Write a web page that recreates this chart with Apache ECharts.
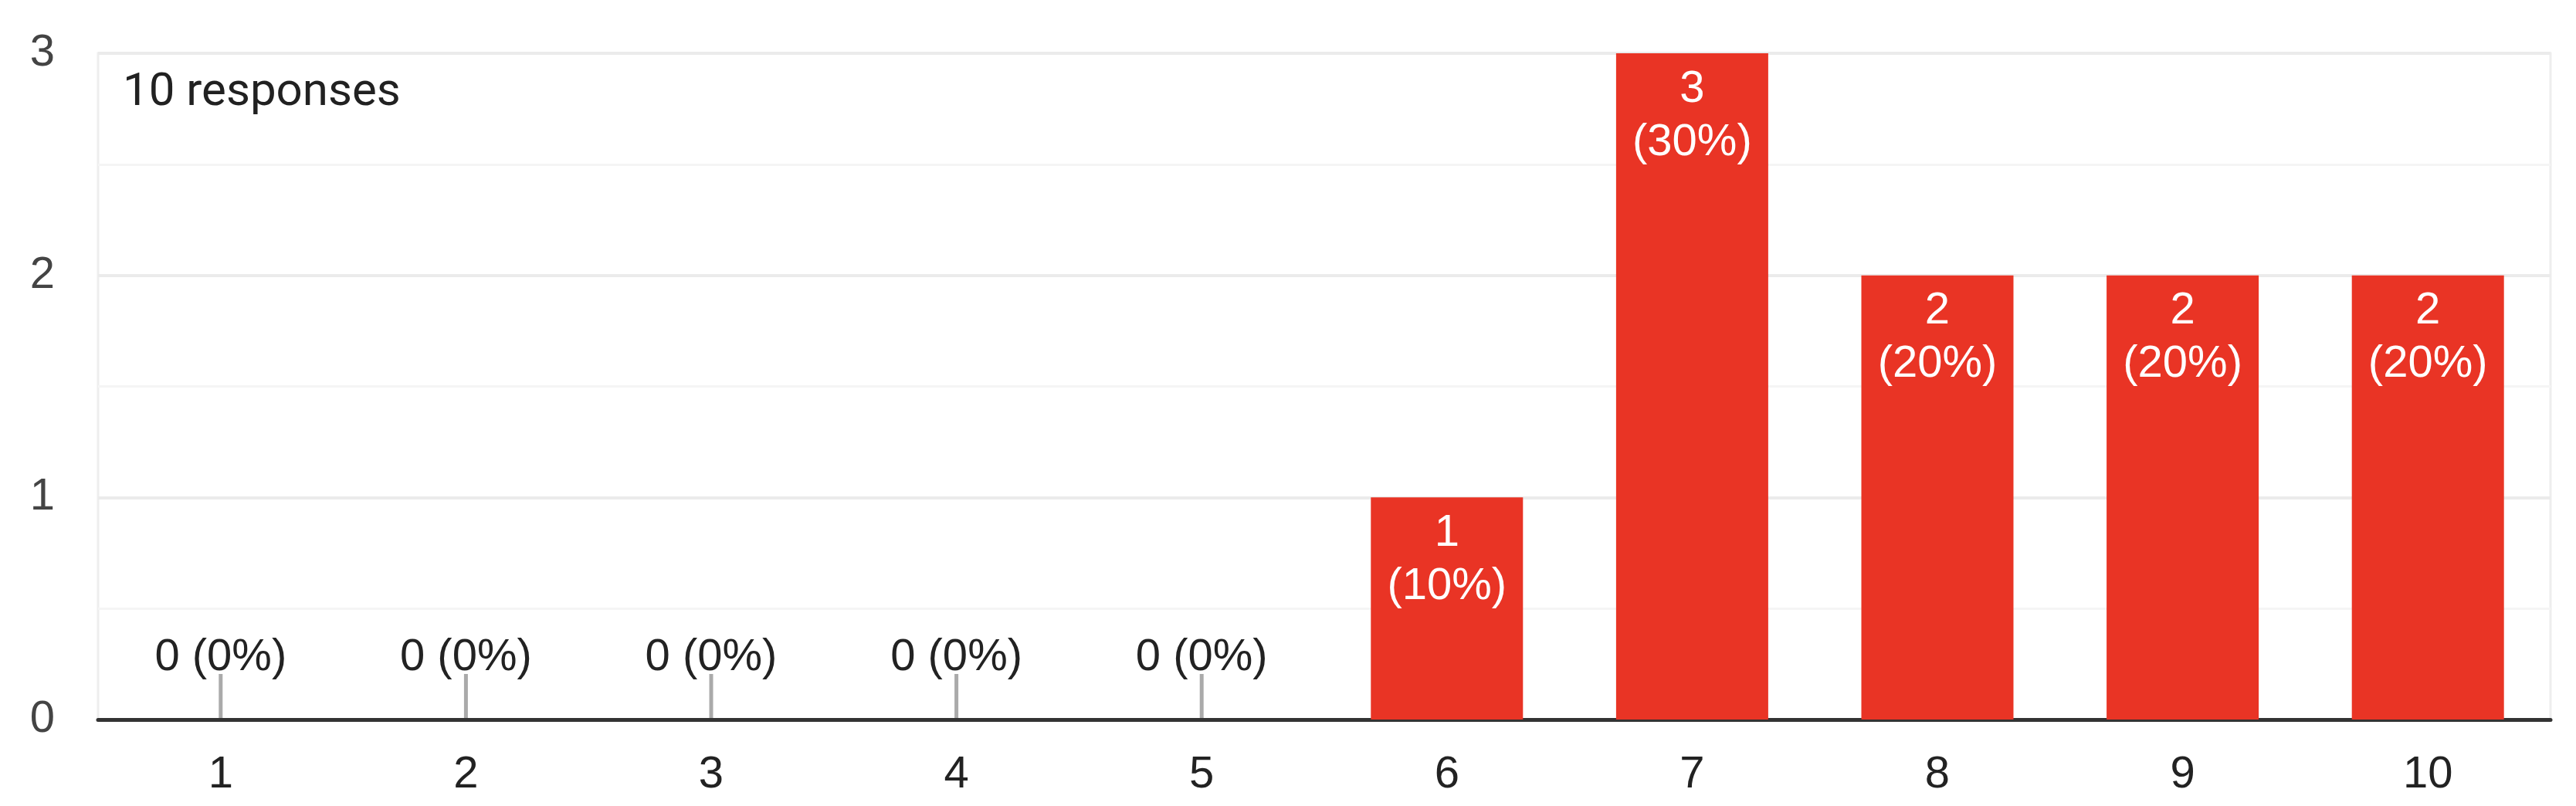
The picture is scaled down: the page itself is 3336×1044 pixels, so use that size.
<!DOCTYPE html>
<html>
<head>
<meta charset="utf-8">
<script src="https://cdn.jsdelivr.net/npm/echarts@6/dist/echarts.min.js"></script>
<style>
  html, body { margin: 0; padding: 0; background: #fff; }
  #chart { width: 3336px; height: 1044px; }
</style>
</head>
<body>
<div id="chart"></div>
<script>
  const categories = ["1", "2", "3", "4", "5", "6", "7", "8", "9", "10"]
  const counts = [0, 0, 0, 0, 0, 1, 3, 2, 2, 2]
  const percents = ["0%", "0%", "0%", "0%", "0%", "10%", "30%", "20%", "20%", "20%"]
  const yTicks = [0, 1, 2, 3]
  const totalLabel = "10 responses"

  const labelFont = "'Liberation Sans', Arial, sans-serif"

  // bars: label inside for non-zero, above with a stem for zero
  const barData = counts.map((v, i) => {
    if (v > 0) {
      return {
        value: v,
        label: {
          show: true,
          position: "insideTop",
          distance: 12,
          color: "#fff",
          formatter: v + "\n(" + percents[i] + ")",
        },
      }
    }
    return {
      value: v,
      label: {
        show: true,
        position: "top",
        distance: 46,
        color: "#222",
        formatter: v + " (" + percents[i] + ")",
      },
    }
  })

  const stemData = counts
    .map((v, i) => [i, v])
    .filter((d) => d[1] === 0)

  const chart = echarts.init(document.getElementById("chart"))
  chart.setOption({
    backgroundColor: "#fff",
    animation: false,
    title: {
      text: totalLabel,
      left: 159,
      top: 91,
      padding: 0,
      textStyle: {
        fontFamily: "Roboto, sans-serif",
        fontSize: 60,
        fontWeight: "normal",
        color: "#212121",
      },
    },
    grid: {
      left: 127,
      right: 33,
      top: 69,
      bottom: 112,
      show: true,
      borderColor: "#eeeeee",
      borderWidth: 3,
    },
    xAxis: {
      type: "category",
      data: categories,
      axisLine: { lineStyle: { color: "#333", width: 5 } },
      axisTick: { show: false },
      axisLabel: {
        margin: 37,
        fontFamily: labelFont,
        fontSize: 58,
        lineHeight: 69,
        color: "#222",
      },
      splitLine: { show: false },
    },
    yAxis: {
      type: "value",
      min: yTicks[0],
      max: yTicks[yTicks.length - 1],
      interval: 1,
      axisLine: { show: false },
      axisTick: { show: false },
      axisLabel: {
        margin: 56,
        fontFamily: labelFont,
        fontSize: 58,
        color: "#444",
      },
      splitLine: { lineStyle: { color: "#ebebeb", width: 4 } },
      minorTick: { show: false, splitNumber: 2 },
      minorSplitLine: { show: true, lineStyle: { color: "#f5f5f5", width: 3 } },
    },
    series: [
      {
        type: "custom",
        data: stemData,
        z: 1,
        renderItem: (params, api) => {
          const p = api.coord([api.value(0), 0])
          return {
            type: "line",
            shape: { x1: p[0], y1: p[1] - 2, x2: p[0], y2: p[1] - 59 },
            style: { stroke: "#aaaaaa", lineWidth: 5 },
          }
        },
      },
      {
        type: "bar",
        data: barData,
        barWidth: 197,
        z: 2,
        itemStyle: { color: "#e93425" },
        label: {
          fontFamily: labelFont,
          fontSize: 58,
          lineHeight: 69,
        },
      },
    ],
  })
</script>
</body>
</html>
